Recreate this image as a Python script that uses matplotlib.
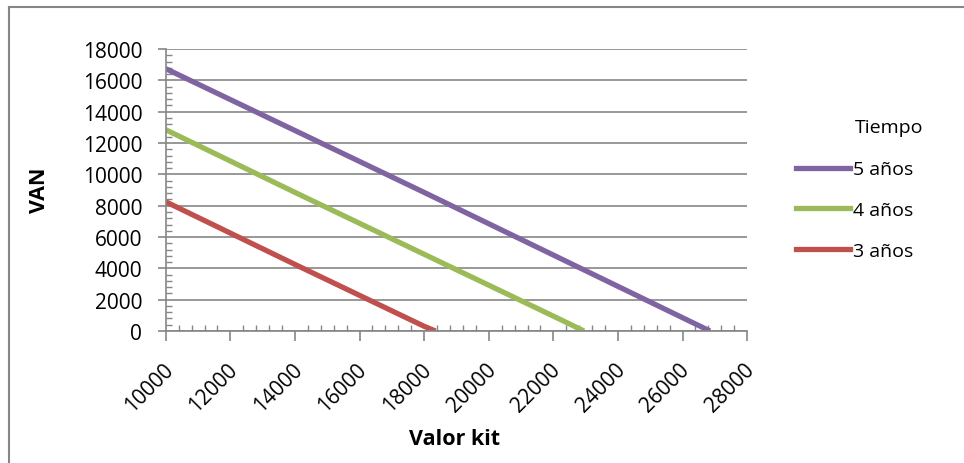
import matplotlib
matplotlib.use("Agg")
import matplotlib.pyplot as plt
from matplotlib.lines import Line2D
from matplotlib.ticker import MultipleLocator
from matplotlib.transforms import ScaledTranslation

plt.rcParams['font.family'] = ['Open Sans', 'DejaVu Sans']

# data
kit_5 = [10000, 14000, 18000, 22000, 26000, 26850]
van_5 = [16750, 12800, 8850, 4850, 850, 0]
kit_4 = [10000, 14000, 18000, 22000, 22950]
van_4 = [12850, 8850, 4900, 950, 0]
kit_3 = [10000, 14000, 18000, 18350]
van_3 = [8250, 4250, 300, 0]

series = [
    (kit_5, van_5, "5 años", "#8064A2"),
    (kit_4, van_4, "4 años", "#9BBB59"),
    (kit_3, van_3, "3 años", "#C0504D"),
]

grey = "#868686"

fig = plt.figure(figsize=(9.64, 4.64), dpi=100)
ax = fig.add_axes([0.172, 0.2845, 0.603, 0.6075])

for x, y, lab, c in series:
    ax.plot(x, y, color=c, lw=3.8, label=lab, solid_capstyle='butt')

ax.set_xlim(10000, 28000)
ax.set_ylim(0, 18000)
ax.xaxis.set_major_locator(MultipleLocator(2000))
ax.xaxis.set_minor_locator(MultipleLocator(400))
ax.yaxis.set_major_locator(MultipleLocator(2000))
ax.yaxis.set_minor_locator(MultipleLocator(400))

ax.grid(True, which='major', axis='y', color=grey, lw=1.2)
ax.set_axisbelow(True)
for s in ['top', 'right']:
    ax.spines[s].set_visible(False)
for s in ['left', 'bottom']:
    ax.spines[s].set_color(grey)
    ax.spines[s].set_linewidth(1.2)

ax.tick_params(axis='both', which='major', direction='out', length=6,
               width=1.2, color=grey, labelsize=15)
ax.tick_params(axis='both', which='minor', direction='in', length=4,
               width=1.0, color=grey)
ax.tick_params(axis='x', which='major', length=7, pad=18)
ax.tick_params(axis='y', which='major', pad=11)
ax.set_xticks(ax.get_xticks())
ax.set_xticklabels([f"{int(v)}" for v in ax.get_xticks()], rotation=45,
                   ha='right', va='center', rotation_mode='anchor')
ax.set_xlim(10000, 28000)
shift = ScaledTranslation(4 / 100, 0, fig.dpi_scale_trans)
for t in ax.get_xticklabels():
    t.set_transform(t.get_transform() + shift)

ax.set_xlabel("Valor kit", fontsize=15.5, fontweight='bold', va='center')
ax.xaxis.set_label_coords(0.497, -0.38)
ax.set_ylabel("VAN", fontsize=15.5, fontweight='bold', va='center')
ax.yaxis.set_label_coords(-0.218, 0.504)

handles = [Line2D([0], [0], color=c, lw=3.8) for _, _, _, c in series]
labels = [lab for _, _, lab, _ in series]
leg = fig.legend(handles, labels, loc='upper left',
                 bbox_to_anchor=(0.826, 0.652), frameon=False, fontsize=14,
                 handlelength=2.75, handletextpad=0.15, borderpad=0,
                 borderaxespad=0, labelspacing=1.16)
fig.text(0.887, 1 - 128 / 464, "Tiempo", fontsize=14, ha='left', va='center')

# chart area border (top and left edges visible)
fig.add_artist(Line2D([0.0095, 0.0095], [0, 0.983], color=grey, lw=1.5,
                      transform=fig.transFigure))
fig.add_artist(Line2D([0.0095, 1.0], [0.983, 0.983], color=grey, lw=1.5,
                      transform=fig.transFigure))

fig.savefig("out.png", dpi=100)
